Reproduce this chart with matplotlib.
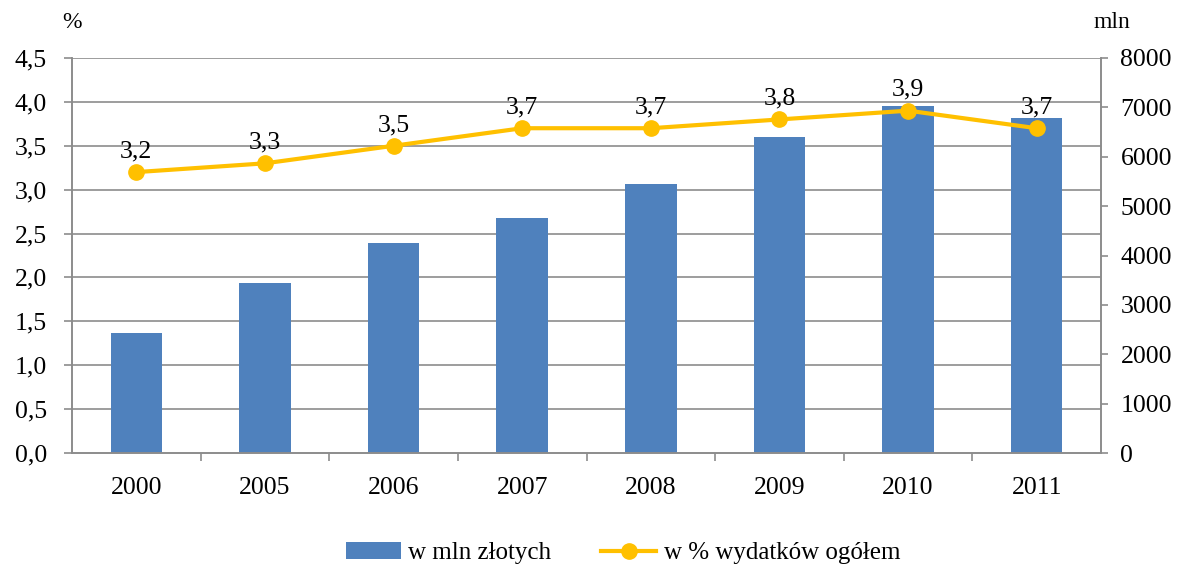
import matplotlib
matplotlib.use("Agg")
import matplotlib.pyplot as plt
import numpy as np

years = ["2000", "2005", "2006", "2007", "2008", "2009", "2010", "2011"]
mln_zl = [2430, 3440, 4250, 4760, 5445, 6400, 7025, 6780]
pct = [3.2, 3.3, 3.5, 3.7, 3.7, 3.8, 3.9, 3.7]
pct_labels = ["3,2", "3,3", "3,5", "3,7", "3,7", "3,8", "3,9", "3,7"]
left_ticks = [0, 0.5, 1.0, 1.5, 2.0, 2.5, 3.0, 3.5, 4.0, 4.5]
left_tick_labels = ["0,0", "0,5", "1,0", "1,5", "2,0", "2,5", "3,0", "3,5", "4,0", "4,5"]
right_ticks = [0, 1000, 2000, 3000, 4000, 5000, 6000, 7000, 8000]

plt.rcParams['font.family'] = ['Liberation Serif', 'DejaVu Serif']

BAR = "#4F81BD"
LINE = "#FFC000"
GRID = "#8C8C8C"
FS = 18.5

fig = plt.figure(figsize=(11.82, 5.65), dpi=100)
ax = fig.add_axes([72/1182, 1-453/565, (1101-72)/1182, (453-58)/565])
ax2 = ax.twinx()

x = np.arange(len(years))
bars = ax2.bar(x, mln_zl, width=0.4, color=BAR, zorder=2, label="w mln złotych")
ax2.set_ylim(0, 8000)
ax2.set_yticks(right_ticks)
ax2.set_yticklabels([str(t) for t in right_ticks], fontsize=FS)

ax.set_ylim(0, 4.5)
ax.set_yticks(left_ticks)
ax.set_yticklabels(left_tick_labels, fontsize=FS)
ax.set_xlim(-0.5, len(years) - 0.5)
ax.set_xticks(x)
ax.set_xticklabels(years, fontsize=FS)
ax.tick_params(axis='x', length=0, pad=17)
ax.set_xticks(np.arange(0.5, len(years) - 1, 1), minor=True)
ax.tick_params(axis='x', which='minor', length=6, color=GRID, width=1.2)
ax.tick_params(axis='y', length=6, color=GRID, width=1.2, pad=12)
ax2.tick_params(axis='y', length=5, color=GRID, width=1.2, pad=9)

for a in (ax, ax2):
    for s in a.spines.values():
        s.set_color(GRID)
        s.set_linewidth(1.2)
    a.spines['top'].set_visible(False)

ax.set_zorder(ax2.get_zorder() + 1)
ax.patch.set_visible(False)
ax.yaxis.grid(False)
ax2.yaxis.grid(False)
for t in left_ticks[1:]:
    ax2.axhline(t / 4.5 * 8000, color=GRID, linewidth=1.2, zorder=1)

line, = ax.plot(x, pct, color=LINE, linewidth=3, marker='o', markersize=11,
                zorder=3, label="w % wydatków ogółem")
for xi, yi, lab in zip(x, pct, pct_labels):
    ax.annotate(lab, (xi, yi), xytext=(0, 7), textcoords='offset points',
                ha='center', va='bottom', fontsize=FS)

fig.text(72/1182, 1-22/565, "%", fontsize=17, ha='center', va='center')
fig.text(1112/1182, 1-22/565, "mln", fontsize=17, ha='center', va='center')

fig.legend([bars, line], ["w mln złotych", "w % wydatków ogółem"], loc='center',
           bbox_to_anchor=(0.527, 1-553/565), ncol=2, frameon=False, fontsize=18,
           handlelength=2.2, columnspacing=2.0, handletextpad=0.3)

fig.savefig("out.png", dpi=100)
